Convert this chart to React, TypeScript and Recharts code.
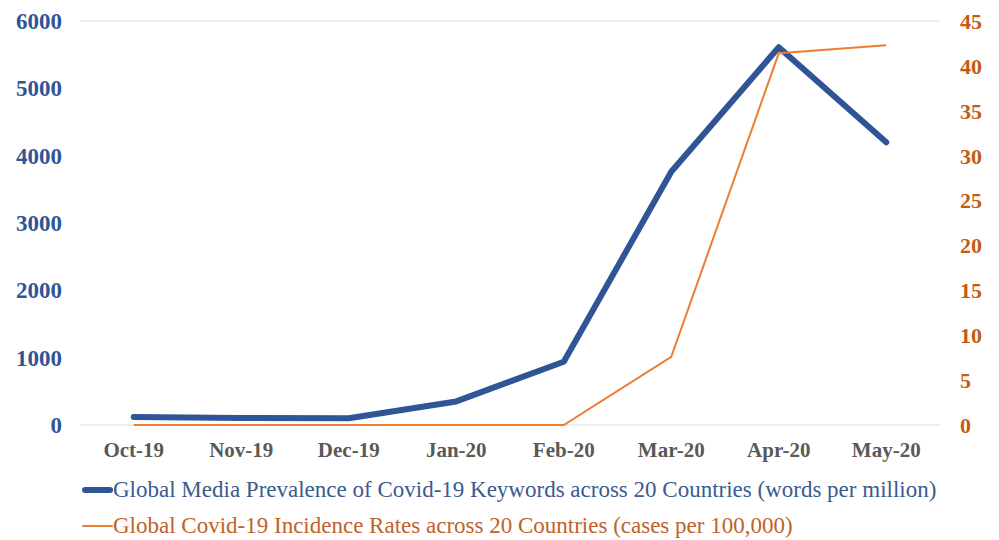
import React from "react";
import { ComposedChart, Line, XAxis, YAxis, CartesianGrid } from "recharts";

const months = ["Oct-19", "Nov-19", "Dec-19", "Jan-20", "Feb-20", "Mar-20", "Apr-20", "May-20"];
const mediaPrevalence = [120, 105, 100, 350, 940, 3760, 5610, 4200];
const incidenceRates = [0, 0, 0, 0, 0, 7.6, 41.4, 42.3];
const leftTicks = [0, 1000, 2000, 3000, 4000, 5000, 6000];
const rightTicks = [0, 5, 10, 15, 20, 25, 30, 35, 40, 45];

const data = months.map((m, i) => ({ month: m, media: mediaPrevalence[i], incidence: incidenceRates[i] }));

const BLUE = "#2F5597";
const ORANGE = "#ED7D31";
const SERIF = "'Liberation Serif', 'Times New Roman', serif";

const legendItems = [
  { label: "Global Media Prevalence of Covid-19 Keywords across 20 Countries (words per million)", color: BLUE, textColor: "#3B5A8F", width: 6 },
  { label: "Global Covid-19 Incidence Rates across 20 Countries (cases per 100,000)", color: ORANGE, textColor: "#C0622A", width: 2 },
];

const CustomLegend = () => (
  <div style={{ position: "absolute", left: 82, top: 472, fontFamily: SERIF, fontSize: 23, lineHeight: "36px" }}>
    {legendItems.map((it) => (
      <div key={it.label} style={{ display: "flex", alignItems: "center", whiteSpace: "nowrap" }}>
        <svg width={31} height={10} style={{ display: "block" }}>
          <line x1={it.width / 2} y1={5} x2={31 - it.width / 2} y2={5} stroke={it.color} strokeWidth={it.width} strokeLinecap="round" />
        </svg>
        <span style={{ color: it.textColor }}>{it.label}</span>
      </div>
    ))}
  </div>
);

const RightTick = (props: any) => {
  const { x, y, payload } = props;
  return (
    <text x={x + 20} y={y} dy="0.36em" textAnchor="start" fill="#C55A11" fontFamily={SERIF} fontWeight="bold" fontSize={22}>
      {payload.value}
    </text>
  );
};

export default function App() {
  return (
    <div style={{ position: "absolute", left: 0, top: 0, width: 999, height: 540, background: "#fff" }}>
      <ComposedChart
        width={999}
        height={540}
        data={data}
        margin={{ top: 21, right: 0, left: 0, bottom: 75 }}
      >
        <CartesianGrid vertical={false} stroke="#D9D9D9" strokeWidth={1} />
        <XAxis
          dataKey="month"
          scale="band"
          axisLine={false}
          tickLine={false}
          tickSize={0}
          tickMargin={17}
          height={40}
          interval={0}
          tick={{ fill: "#595959", fontFamily: SERIF, fontWeight: "bold", fontSize: 21 }}
        />
        <YAxis
          yAxisId="left"
          orientation="left"
          width={80}
          domain={[0, 6000]}
          ticks={leftTicks}
          axisLine={false}
          tickLine={false}
          tickSize={0}
          tickMargin={18}
          tick={{ fill: BLUE, fontFamily: SERIF, fontWeight: "bold", fontSize: 23 }}
        />
        <YAxis
          yAxisId="right"
          orientation="right"
          width={59}
          domain={[0, 45]}
          ticks={rightTicks}
          axisLine={false}
          tickLine={false}
          tickSize={0}
          tickMargin={0}
          tick={<RightTick />}
        />
        <Line
          yAxisId="left"
          type="linear"
          dataKey="media"
          stroke={BLUE}
          strokeWidth={6}
          strokeLinecap="round"
          strokeLinejoin="round"
          dot={false}
          isAnimationActive={false}
        />
        <Line
          yAxisId="right"
          type="linear"
          dataKey="incidence"
          stroke={ORANGE}
          strokeWidth={2}
          dot={false}
          isAnimationActive={false}
        />
      </ComposedChart>
      <CustomLegend />
    </div>
  );
}
